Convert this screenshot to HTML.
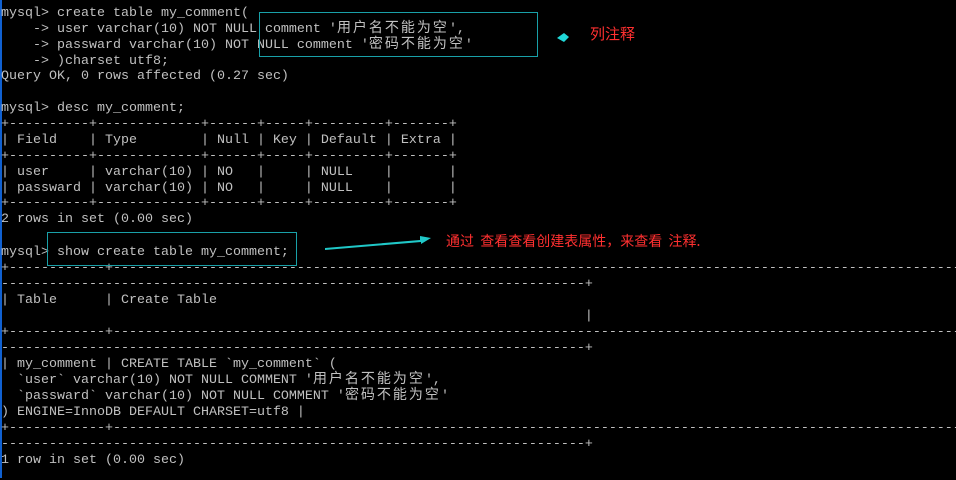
<!DOCTYPE html>
<html><head><meta charset="utf-8"><style>
body{margin:0;background:#000;width:956px;height:478px;overflow:hidden;position:relative}
#w{position:absolute;left:0;top:2px;width:956px;height:478px}
.l{position:absolute;left:1px;white-space:pre;font-family:"Liberation Mono","Noto Sans CJK SC",monospace;font-size:13.33px;line-height:16px;height:16px;color:#c0c0c0;overflow:visible}
.c{font-family:"Noto Sans CJK SC",sans-serif;font-size:14px;letter-spacing:2px;line-height:1px;vertical-align:0}
.box{position:absolute;border:1px solid #19a0a8}
.red{position:absolute;color:#ff3030;font-family:"Noto Sans CJK SC",sans-serif;font-size:14px;white-space:pre;line-height:16px}
</style></head><body>
<div style="position:absolute;left:0;top:0;width:2px;height:478px;background:#1060d0"></div>
<div id="w">
<div class="l" style="top:4px">mysql&gt; create table my_comment(</div>
<div class="l" style="top:20px">    -&gt; user varchar(10) NOT NULL comment '<span class="c">用户名不能为空</span>',</div>
<div class="l" style="top:36px">    -&gt; passward varchar(10) NOT NULL comment '<span class="c">密码不能为空</span>'</div>
<div class="l" style="top:52px">    -&gt; )charset utf8;</div>
<div class="l" style="top:67px">Query OK, 0 rows affected (0.27 sec)</div>
<div class="l" style="top:99px">mysql&gt; desc my_comment;</div>
<div class="l" style="top:115px">+----------+-------------+------+-----+---------+-------+</div>
<div class="l" style="top:131px">| Field    | Type        | Null | Key | Default | Extra |</div>
<div class="l" style="top:147px">+----------+-------------+------+-----+---------+-------+</div>
<div class="l" style="top:163px">| user     | varchar(10) | NO   |     | NULL    |       |</div>
<div class="l" style="top:179px">| passward | varchar(10) | NO   |     | NULL    |       |</div>
<div class="l" style="top:194px">+----------+-------------+------+-----+---------+-------+</div>
<div class="l" style="top:210px">2 rows in set (0.00 sec)</div>
<div class="l" style="top:243px">mysql&gt; show create table my_comment;</div>
<div class="l" style="top:259px">+------------+------------------------------------------------------------------------------------------------------------</div>
<div class="l" style="top:275px">-------------------------------------------------------------------------+</div>
<div class="l" style="top:291px">| Table      | Create Table</div>
<div class="l" style="top:307px">                                                                         |</div>
<div class="l" style="top:323px">+------------+------------------------------------------------------------------------------------------------------------</div>
<div class="l" style="top:339px">-------------------------------------------------------------------------+</div>
<div class="l" style="top:355px">| my_comment | CREATE TABLE `my_comment` (</div>
<div class="l" style="top:371px">  `user` varchar(10) NOT NULL COMMENT '<span class="c">用户名不能为空</span>',</div>
<div class="l" style="top:387px">  `passward` varchar(10) NOT NULL COMMENT '<span class="c">密码不能为空</span>'</div>
<div class="l" style="top:403px">) ENGINE=InnoDB DEFAULT CHARSET=utf8 |</div>
<div class="l" style="top:419px">+------------+------------------------------------------------------------------------------------------------------------</div>
<div class="l" style="top:435px">-------------------------------------------------------------------------+</div>
<div class="l" style="top:451px">1 row in set (0.00 sec)</div>
</div>
<div class="box" style="left:259px;top:12px;width:277px;height:43px"></div>
<div class="box" style="left:47px;top:232px;width:248px;height:32px"></div>
<svg style="position:absolute;left:0;top:0" width="956" height="478">
<polygon points="557,38 564,33 569,37 564,42" fill="#20d8d8"/>
<polygon points="325,248 420,240 420,236 431,238 421,244 421,242 325,250" fill="#20c8c8"/>
</svg>
<div class="red" style="left:590px;top:26px;font-size:15px">列注释</div>
<div class="red" style="left:446px;top:233px">通过  查看查看创建表属性，来查看  注释.</div>
</body></html>
